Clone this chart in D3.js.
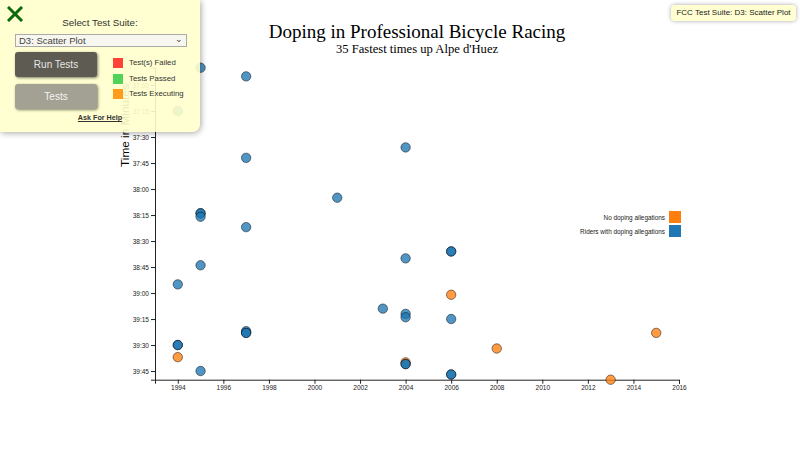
<!DOCTYPE html>
<html>
<head>
<meta charset="utf-8">
<script src="https://cdn.jsdelivr.net/npm/d3@7"></script>
<style>
  html, body { margin:0; padding:0; width:800px; height:450px; overflow:hidden; background:#fff; }
  #chart { position:absolute; left:0; top:0; }
  .fcc { position:absolute; font-family: Arial, "Liberation Sans", sans-serif; color:#333; }
</style>
</head>
<body>
<svg id="chart" width="800" height="450"></svg>

<div class="fcc" style="left:0;top:0;width:200px;height:132px;background:rgba(255,255,204,0.9);border-bottom-right-radius:8px;box-shadow:1px 1px 6px rgba(0,0,0,0.35);">
  <svg style="position:absolute;left:7px;top:6px" width="16" height="16"><path d="M2,2 L14,14 M14,2 L2,14" stroke="#0b6a0b" stroke-width="3" stroke-linecap="square"/></svg>
  <div style="position:absolute;left:0;width:200px;top:17px;text-align:center;font-size:9.8px;">Select Test Suite:</div>
  <div style="position:absolute;left:15px;top:34px;width:167px;height:11px;border:1px solid #aaa;background:#f7f7f0;font-size:9.5px;line-height:11px;padding-left:3px;box-sizing:content-box;color:#444;">D3: Scatter Plot<span style="position:absolute;right:3px;top:-1px;font-size:9px;">&#8964;</span></div>
  <div style="position:absolute;left:15px;top:52px;width:82px;height:25px;border-radius:3px;background:#5e5b52;box-shadow:1px 1px 3px rgba(0,0,0,0.5);color:#e6e6e6;font-size:10px;line-height:25px;text-align:center;">Run Tests</div>
  <div style="position:absolute;left:15px;top:84px;width:82px;height:25px;border-radius:3px;background:#a3a193;box-shadow:1px 1px 3px rgba(0,0,0,0.5);color:#f4f4f4;font-size:10px;line-height:25px;text-align:center;">Tests</div>
  <div style="position:absolute;left:113px;top:58px;width:9.5px;height:9.5px;background:#ff4136;"></div>
  <div style="position:absolute;left:129px;top:58px;font-size:7.8px;">Test(s) Failed</div>
  <div style="position:absolute;left:113px;top:74px;width:9.5px;height:9.5px;background:#51d35a;"></div>
  <div style="position:absolute;left:129px;top:74px;font-size:7.8px;">Tests Passed</div>
  <div style="position:absolute;left:113px;top:89px;width:9.5px;height:9.5px;background:#ff9d1b;"></div>
  <div style="position:absolute;left:129px;top:89px;font-size:7.8px;">Tests Executing</div>
  <div style="position:absolute;left:0;width:200px;top:113px;text-align:center;font-size:7.2px;font-weight:bold;text-decoration:underline;">Ask For Help</div>
</div>

<div class="fcc" style="left:671px;top:5px;width:125px;height:16px;background:rgba(255,255,204,0.9);border-radius:4px;box-shadow:0 0 4px rgba(0,0,0,0.35);font-size:8px;line-height:16px;text-align:center;color:#222;">FCC Test Suite: D3: Scatter Plot</div>

<script>
// ---- data ----
const years = [1995,1997,1994,2004,1997,2001,1995,1995,1995,1997,2006,2006,2004,1995,1994,2006,2003,2004,2004,2006,1997,1997,2015,1994,1994,2008,1994,2004,2004,2004,1995,2006,2006,2013,1997];
const times = ["36:50","36:55","37:15","37:36","37:42","38:05","38:14","38:14","38:16","38:22","38:36","38:36","38:40","38:44","38:55","39:01","39:09","39:12","39:14","39:15","39:22","39:23","39:23","39:30","39:30","39:32","39:37","39:40","39:41","39:41","39:45","39:47","39:47","39:50","39:23"];
const doping = [1,1,1,1,1,1,1,1,1,1,1,1,1,1,1,0,1,1,1,1,1,1,0,1,1,0,0,0,1,1,1,1,1,0,1];
const legendLabels = ["No doping allegations", "Riders with doping allegations"];
const xDomain = [1993, 2016];
const yDomain = ["36:50", "39:50"];

const toSec = t => { const [m,s] = t.split(":").map(Number); return m*60+s; };
const fmt = s => { const m = Math.floor(s/60), r = s%60; return m + ":" + String(r).padStart(2,"0"); };

const svg = d3.select("#chart");
const x = d3.scaleLinear().domain(xDomain).range([155, 679]);
const y = d3.scaleLinear().domain(yDomain.map(toSec)).range([67.7, 379.7]);
const color = d3.scaleOrdinal().domain([0,1]).range(["#ff7f0e", "#1f77b4"]);

// title
svg.append("text").attr("x", 417).attr("y", 37.5).attr("text-anchor","middle")
  .style("font-family","'Liberation Serif', 'Times New Roman', serif").style("font-size","19px")
  .text("Doping in Professional Bicycle Racing");
svg.append("text").attr("x", 417).attr("y", 52.5).attr("text-anchor","middle")
  .style("font-family","'Liberation Serif', 'Times New Roman', serif").style("font-size","12.6px")
  .text("35 Fastest times up Alpe d'Huez");

// axes
const xTicks = d3.range(1994, 2017, 2);
const yTicks = d3.range(toSec("37:00"), toSec("39:50"), 15);
const xAxis = d3.axisBottom(x).tickValues(xTicks).tickFormat(d3.format("d")).tickSize(4).tickPadding(2);
const yAxis = d3.axisLeft(y).tickValues(yTicks).tickFormat(fmt).tickSize(4).tickPadding(2);

const gx = svg.append("g").attr("transform", `translate(0,${y.range()[1]})`).call(xAxis);
const gy = svg.append("g").attr("transform", `translate(${x.range()[0]},0)`).call(yAxis);
[gx, gy].forEach(g => {
  g.selectAll("text").style("font-family","Arial, 'Liberation Sans', sans-serif").style("font-size","6.5px").attr("fill","#222");
  g.selectAll("path,line").attr("stroke","#222");
});

// y label
svg.append("text").attr("transform","translate(129,167) rotate(-90)")
  .style("font-family","Arial, 'Liberation Sans', sans-serif").style("font-size","11.8px")
  .text("Time in Minutes");

// dots
svg.append("g").selectAll("circle").data(years.map((yr,i)=>({yr, t: toSec(times[i]), d: doping[i]})))
  .join("circle")
  .attr("cx", d => x(d.yr)).attr("cy", d => y(d.t)).attr("r", 4.7)
  .attr("fill", d => color(d.d)).attr("fill-opacity", 0.78)
  .attr("stroke", "#000").attr("stroke-opacity", 0.6).attr("stroke-width", 0.8);

// legend
const lg = svg.append("g").selectAll("g").data([0,1]).join("g")
  .attr("transform", (d,i) => `translate(0,${211 + i*14})`);
lg.append("rect").attr("x", 669).attr("width", 12).attr("height", 12).attr("fill", d => color(d));
lg.append("text").attr("x", 665).attr("y", 8.5).attr("text-anchor","end")
  .style("font-family","Arial, 'Liberation Sans', sans-serif").style("font-size","6.4px").attr("fill","#222")
  .text((d,i) => legendLabels[i]);
</script>
</body>
</html>
